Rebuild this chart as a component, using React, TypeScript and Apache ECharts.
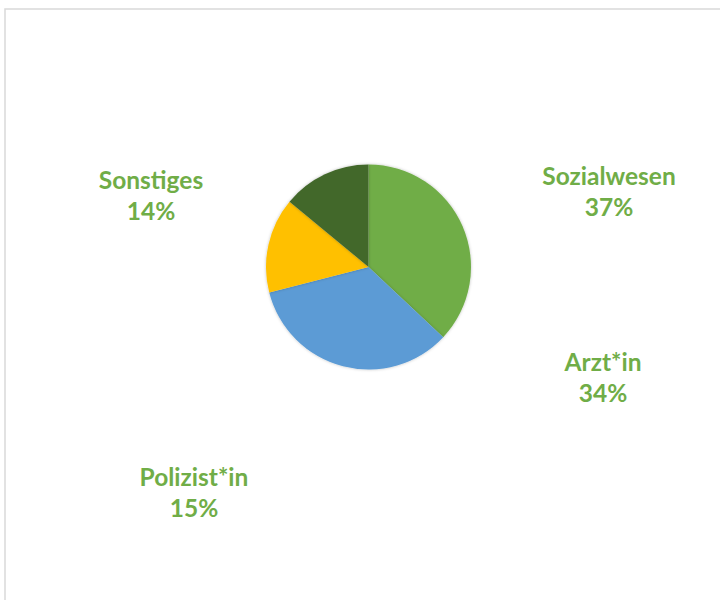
import React, { useEffect, useRef } from "react";
import * as echarts from "echarts";

const categories = ["Sozialwesen", "Arzt*in", "Polizist*in", "Sonstiges"];
const values = [37, 34, 15, 14];
const colors = ["#70AD47", "#5B9BD5", "#FFC000", "#43682B"];
const labelPos: [number, number][] = [
  [609, 191],
  [603, 377],
  [194, 492],
  [151, 195],
];

export default function App() {
  const ref = useRef<HTMLDivElement>(null);
  useEffect(() => {
    if (!ref.current) return;
    const chart = echarts.init(ref.current, undefined, { renderer: "svg" });
    chart.setOption({
      animation: false,
      backgroundColor: "#ffffff",
      graphic: [
        {
          type: "rect",
          shape: { x: 5, y: 9, width: 800, height: 700 },
          style: { fill: "none", stroke: "#D9D9D9", lineWidth: 1.5 },
          silent: true,
        },
      ],
      series: [
        {
          type: "pie",
          center: [368.5, 267],
          radius: 102.5,
          startAngle: 90,
          clockwise: true,
          percentPrecision: 0,
          data: categories.map((c, i) => ({
            name: c,
            value: values[i],
            itemStyle: { color: colors[i] },
          })),
          itemStyle: {
            borderWidth: 0,
            shadowBlur: 3,
            shadowColor: "rgba(0,0,0,0.25)",
          },
          label: {
            show: true,
            formatter: "{b}\n{d}%",
            color: "#70AD47",
            fontFamily: "Lato",
            fontWeight: "bold",
            fontSize: 24.5,
            lineHeight: 31,
            align: "center",
          },
          labelLine: { show: false },
          labelLayout: (params: any) => ({
            x: labelPos[params.dataIndex][0],
            y: labelPos[params.dataIndex][1],
            align: "center",
            verticalAlign: "middle",
          }),
          emphasis: { disabled: true },
        },
      ],
    });
    return () => chart.dispose();
  }, []);
  return (
    <div
      ref={ref}
      style={{ position: "fixed", left: 0, top: 0, width: 720, height: 600 }}
    />
  );
}
